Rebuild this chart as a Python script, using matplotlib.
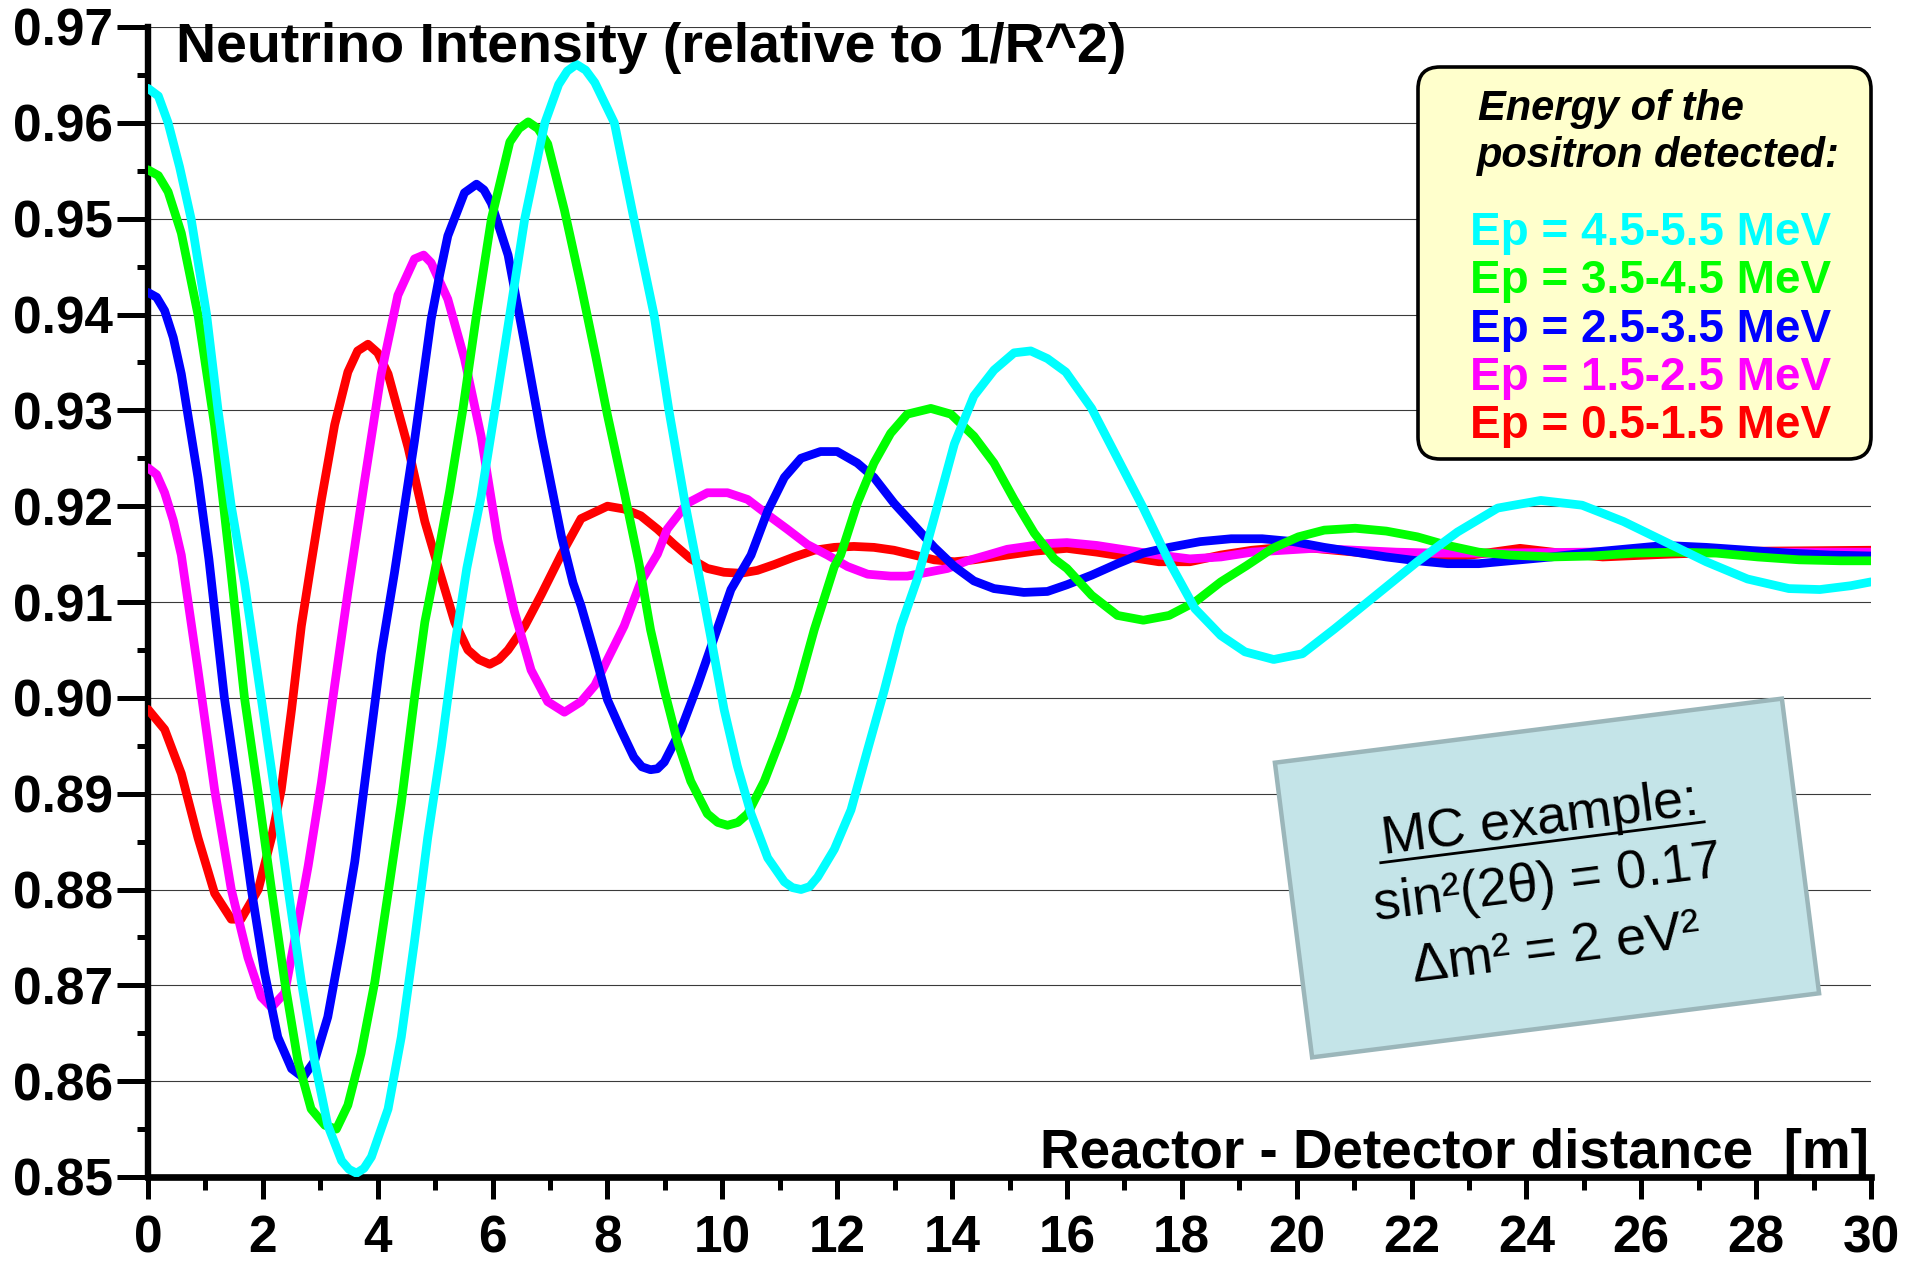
import matplotlib
matplotlib.use('Agg')
from matplotlib import pyplot as plt
from matplotlib import font_manager
from matplotlib.patches import Rectangle, FancyBboxPatch
import numpy as np


W_PX, H_PX = 1905, 1265

# energy bins (legend labels, colours)
bin_labels = ['Ep = 4.5-5.5 MeV', 'Ep = 3.5-4.5 MeV', 'Ep = 2.5-3.5 MeV',
              'Ep = 1.5-2.5 MeV', 'Ep = 0.5-1.5 MeV']
bin_colors = ['#00FFFF', '#00FF00', '#0000FF', '#FF00FF', '#FF0000']

# curves: distance [m], relative intensity
dist_45_55 = [0, 0.18, 0.35, 0.55, 0.75, 1.02, 1.22, 1.45, 1.68, 1.97, 2.21, 2.44,
              2.67, 2.90, 3.13, 3.37, 3.50, 3.63, 3.76, 3.89, 4.18, 4.41, 4.64,
              4.87, 5.11, 5.34, 5.55, 5.80, 6.04, 6.30, 6.56, 6.91, 7.15, 7.30,
              7.46, 7.62, 7.78, 8.12, 8.46, 8.81, 9.07, 9.36, 9.62, 9.80, 10.03,
              10.26, 10.50, 10.79, 11.08, 11.22, 11.37, 11.52, 11.66, 11.95,
              12.24, 12.53, 12.82, 13.11, 13.40, 13.69, 14.04, 14.38, 14.73,
              15.08, 15.37, 15.66, 15.98, 16.43, 16.88, 17.33, 17.78, 18.23,
              18.68, 19.10, 19.60, 20.10, 20.66, 21.38, 22.10, 22.80, 23.50,
              24.25, 24.97, 25.69, 26.41, 27.13, 27.85, 28.57, 29.11, 29.65, 30.0]
int_45_55 = [0.9636, 0.9628, 0.9600, 0.9554, 0.9500, 0.9400, 0.9300, 0.9200,
             0.9120, 0.9000, 0.8900, 0.8800, 0.8704, 0.8621, 0.8554, 0.8517,
             0.8508, 0.8504, 0.8509, 0.8521, 0.8571, 0.8646, 0.8746, 0.8854,
             0.8950, 0.9054, 0.9135, 0.9210, 0.9300, 0.9400, 0.9500, 0.9600,
             0.9640, 0.9654, 0.9661, 0.9655, 0.9642, 0.9600, 0.9500, 0.9400,
             0.9300, 0.9200, 0.9120, 0.9063, 0.8988, 0.8929, 0.8879, 0.8833,
             0.8808, 0.8802, 0.8800, 0.8803, 0.8813, 0.8842, 0.8883, 0.8946,
             0.9008, 0.9075, 0.9125, 0.9188, 0.9265, 0.9315, 0.9342, 0.9360,
             0.9362, 0.9354, 0.9340, 0.9302, 0.9250, 0.9198, 0.9142, 0.9093,
             0.9065, 0.9048, 0.9040, 0.9046, 0.9072, 0.9107, 0.9142, 0.9173,
             0.9198, 0.9206, 0.9201, 0.9184, 0.9163, 0.9142, 0.9124, 0.9114,
             0.9113, 0.9117, 0.9121]

dist_35_45 = [0, 0.18, 0.35, 0.58, 0.87, 1.16, 1.42, 1.68, 1.92, 2.15, 2.38, 2.61,
              2.84, 3.08, 3.28, 3.48, 3.71, 3.95, 4.18, 4.41, 4.64, 4.82, 5.02,
              5.25, 5.48, 5.72, 5.98, 6.30, 6.46, 6.62, 6.79, 6.96, 7.25, 7.54,
              7.80, 8.00, 8.29, 8.55, 8.75, 8.99, 9.22, 9.45, 9.74, 9.92, 10.09,
              10.27, 10.44, 10.73, 11.02, 11.31, 11.60, 11.95, 12.06, 12.35,
              12.64, 12.93, 13.22, 13.63, 13.98, 14.38, 14.73, 15.08, 15.43,
              15.78, 16.0, 16.43, 16.88, 17.33, 17.78, 18.23, 18.68, 19.13,
              19.58, 20.03, 20.48, 21.02, 21.56, 22.10, 22.63, 23.17, 23.71,
              24.43, 25.15, 25.87, 26.59, 27.31, 28.03, 28.75, 29.47, 30.0]
int_35_45 = [0.9551, 0.9545, 0.9528, 0.9485, 0.9400, 0.9284, 0.9145, 0.9000,
             0.8900, 0.8800, 0.8704, 0.8621, 0.8571, 0.8554, 0.8550, 0.8575,
             0.8629, 0.8704, 0.8796, 0.8890, 0.9000, 0.9079, 0.9140, 0.9215,
             0.9300, 0.9400, 0.9500, 0.9580, 0.9594, 0.9601, 0.9594, 0.9578,
             0.9509, 0.9430, 0.9355, 0.9295, 0.9215, 0.9140, 0.9071, 0.9008,
             0.8954, 0.8913, 0.8879, 0.8870, 0.8867, 0.8870, 0.8879, 0.8913,
             0.8958, 0.9008, 0.9071, 0.9137, 0.9149, 0.9203, 0.9245, 0.9276,
             0.9296, 0.9302, 0.9296, 0.9273, 0.9245, 0.9207, 0.9172, 0.9145,
             0.9135, 0.9107, 0.9086, 0.9081, 0.9086, 0.9100, 0.9121, 0.9138,
             0.9156, 0.9168, 0.9175, 0.9177, 0.9174, 0.9168, 0.9159, 0.9152,
             0.9149, 0.9147, 0.9148, 0.9151, 0.9152, 0.9151, 0.9147, 0.9144,
             0.9143, 0.9143]

dist_25_35 = [0, 0.15, 0.29, 0.44, 0.58, 0.87, 1.06, 1.33, 1.57, 1.80, 2.03, 2.26,
              2.50, 2.70, 2.90, 3.13, 3.37, 3.60, 3.83, 4.06, 4.29, 4.64, 4.93,
              5.08, 5.22, 5.51, 5.72, 5.85, 5.98, 6.27, 6.56, 6.85, 7.20, 7.40,
              7.54, 7.78, 8.00, 8.23, 8.46, 8.60, 8.75, 8.87, 8.99, 9.28, 9.57,
              9.86, 10.15, 10.50, 10.79, 11.08, 11.37, 11.71, 12.00, 12.35,
              12.64, 12.99, 13.34, 13.69, 14.04, 14.38, 14.73, 15.25, 15.66,
              16.00, 16.43, 16.88, 17.33, 17.78, 18.32, 18.86, 19.40, 19.94,
              20.48, 21.02, 21.56, 22.10, 22.63, 23.17, 23.71, 24.43, 25.15,
              25.87, 26.41, 27.13, 27.85, 28.57, 29.29, 30.0]
int_25_35 = [0.9423, 0.9418, 0.9404, 0.9376, 0.9338, 0.9230, 0.9145, 0.9000,
             0.8900, 0.8800, 0.8713, 0.8646, 0.8613, 0.8604, 0.8621, 0.8667,
             0.8746, 0.8829, 0.8938, 0.9046, 0.9130, 0.9268, 0.9395, 0.9442,
             0.9482, 0.9527, 0.9536, 0.9530, 0.9516, 0.9462, 0.9369, 0.9273,
             0.9168, 0.9120, 0.9096, 0.9046, 0.8998, 0.8967, 0.8938, 0.8928,
             0.8925, 0.8926, 0.8933, 0.8967, 0.9013, 0.9063, 0.9113, 0.9149,
             0.9195, 0.9230, 0.9250, 0.9257, 0.9257, 0.9245, 0.9230, 0.9203,
             0.9180, 0.9157, 0.9137, 0.9122, 0.9114, 0.9110, 0.9111, 0.9118,
             0.9128, 0.9140, 0.9151, 0.9157, 0.9163, 0.9166, 0.9166, 0.9163,
             0.9157, 0.9152, 0.9147, 0.9143, 0.9140, 0.9140, 0.9143, 0.9147,
             0.9152, 0.9156, 0.9159, 0.9157, 0.9154, 0.9151, 0.9149, 0.9148]

dist_15_25 = [0, 0.15, 0.29, 0.44, 0.58, 0.87, 1.16, 1.45, 1.74, 1.97, 2.15, 2.38,
              2.55, 2.79, 3.02, 3.25, 3.48, 3.77, 4.06, 4.35, 4.64, 4.80, 4.93,
              5.22, 5.51, 5.80, 6.09, 6.38, 6.67, 6.96, 7.25, 7.54, 7.78, 8.00,
              8.29, 8.58, 8.87, 9.04, 9.39, 9.74, 10.09, 10.44, 10.79, 11.13,
              11.48, 11.83, 12.18, 12.53, 12.93, 13.22, 13.57, 13.92, 14.27,
              14.62, 14.96, 15.31, 15.66, 16.0, 16.52, 17.06, 17.60, 18.14,
              18.68, 19.22, 19.76, 20.30, 21.02, 21.74, 22.45, 23.5, 25.0, 26.5,
              28.0, 30.0]
int_15_25 = [0.9240, 0.9233, 0.9214, 0.9185, 0.9149, 0.9029, 0.8904, 0.8800,
             0.8729, 0.8688, 0.8677, 0.8692, 0.8746, 0.8825, 0.8912, 0.9013,
             0.9110, 0.9226, 0.9338, 0.9420, 0.9458, 0.9462, 0.9454, 0.9416,
             0.9354, 0.9273, 0.9165, 0.9090, 0.9029, 0.8996, 0.8985, 0.8996,
             0.9013, 0.9040, 0.9075, 0.9121, 0.9150, 0.9176, 0.9203, 0.9214,
             0.9214, 0.9207, 0.9191, 0.9176, 0.9160, 0.9149, 0.9137, 0.9129,
             0.9127, 0.9127, 0.9131, 0.9135, 0.9143, 0.9149, 0.9155, 0.9158,
             0.9161, 0.9162, 0.9159, 0.9154, 0.9149, 0.9145, 0.9147, 0.9152,
             0.9154, 0.9156, 0.9154, 0.9152, 0.9151, 0.9151, 0.9152, 0.9153,
             0.9152, 0.9152]

dist_05_15 = [0, 0.29, 0.58, 0.87, 1.16, 1.45, 1.62, 1.92, 2.15, 2.32, 2.50, 2.67,
              2.84, 3.02, 3.25, 3.48, 3.65, 3.83, 4.00, 4.18, 4.53, 4.82, 5.05,
              5.34, 5.57, 5.76, 5.95, 6.11, 6.27, 6.56, 6.85, 7.20, 7.54, 8.00,
              8.29, 8.58, 8.87, 9.16, 9.45, 9.74, 10.03, 10.32, 10.61, 10.90,
              11.25, 11.60, 11.95, 12.29, 12.64, 12.99, 13.34, 13.69, 14.04,
              14.38, 14.73, 15.08, 15.43, 16.00, 16.52, 17.06, 17.60, 18.14,
              18.68, 19.22, 19.76, 20.30, 21.02, 21.74, 22.45, 23.17, 23.89,
              24.60, 25.33, 26.5, 28.0, 30.0]
int_05_15 = [0.8988, 0.8967, 0.8921, 0.8854, 0.8796, 0.8769, 0.8769, 0.8800,
             0.8854, 0.8904, 0.8988, 0.9075, 0.9140, 0.9207, 0.9285, 0.9340,
             0.9362, 0.9369, 0.9360, 0.9338, 0.9261, 0.9184, 0.9137, 0.9079,
             0.9050, 0.9040, 0.9035, 0.9040, 0.9050, 0.9075, 0.9108, 0.9150,
             0.9187, 0.9200, 0.9197, 0.9190, 0.9176, 0.9160, 0.9145, 0.9135,
             0.9131, 0.9130, 0.9133, 0.9139, 0.9147, 0.9154, 0.9157, 0.9158,
             0.9157, 0.9154, 0.9149, 0.9144, 0.9142, 0.9144, 0.9147, 0.9150,
             0.9153, 0.9156, 0.9152, 0.9147, 0.9142, 0.9142, 0.9149, 0.9154,
             0.9157, 0.9156, 0.9152, 0.9147, 0.9145, 0.9150, 0.9156, 0.9151,
             0.9147, 0.9150, 0.9153, 0.9154]

x_major = list(range(0, 31, 2))
y_major = [0.85, 0.86, 0.87, 0.88, 0.89, 0.90, 0.91, 0.92, 0.93, 0.94, 0.95, 0.96, 0.97]

mc_lines = ['MC example:', 'sin\u00b2(2\u03b8) = 0.17', '\u0394m\u00b2 = 2 eV\u00b2']


def Y(y_top):
    # pixel row measured from the top -> overlay coordinate (y up)
    return H_PX - y_top


def local_to_px(cx, cy, u, v, ang):
    a = np.radians(ang)
    return cx + u*np.cos(a) - v*np.sin(a), cy + u*np.sin(a) + v*np.cos(a)


def do_plot():
    names = {f.name for f in font_manager.fontManager.ttflist}
    has_narrow = 'Liberation Sans Narrow' in names
    plt.rcParams['font.family'] = ['Liberation Sans', 'DejaVu Sans']

    fig = plt.figure(figsize=(W_PX/100.0, H_PX/100.0), dpi=100)
    ax = fig.add_axes([148.0/W_PX, 1.0-1177.0/H_PX, (1871.0-148.0)/W_PX, (1177.0-27.0)/H_PX])

    series = [(dist_05_15, int_05_15, bin_colors[4]),
              (dist_15_25, int_15_25, bin_colors[3]),
              (dist_25_35, int_25_35, bin_colors[2]),
              (dist_35_45, int_35_45, bin_colors[1]),
              (dist_45_55, int_45_55, bin_colors[0])]
    for xs, ys, col in series:
        ax.plot(xs, ys, '-', color=col, lw=6.3, solid_joinstyle='round',
                solid_capstyle='round', zorder=3)

    ax.set_xlim(0, 30)
    ax.set_ylim(0.85, 0.97)
    ax.set_xticks(x_major)
    ax.set_xticks(range(0, 31), minor=True)
    ax.set_yticks(y_major)
    ax.set_yticks(np.arange(0.855, 0.97, 0.01), minor=True)
    ax.set_yticklabels(['%.2f' % v for v in y_major])
    ax.yaxis.grid(True, which='major', color='#3a3a3a', lw=0.8, zorder=0)
    ax.set_axisbelow(True)

    for s in ['top', 'right']:
        ax.spines[s].set_visible(False)
    ax.spines['left'].set_linewidth(4.6)
    ax.spines['bottom'].set_linewidth(4.8)
    ax.spines['left'].set_capstyle('projecting')
    ax.spines['bottom'].set_capstyle('projecting')

    ax.tick_params(axis='y', which='major', direction='out', length=22, width=3.6,
                   pad=3, labelsize=37)
    ax.tick_params(axis='y', which='minor', direction='out', length=8, width=3.6)
    ax.tick_params(axis='x', which='major', direction='out', length=16, width=3.6,
                   pad=11, labelsize=37)
    ax.tick_params(axis='x', which='minor', direction='out', length=9, width=3.6)
    for lab in ax.get_xticklabels() + ax.get_yticklabels():
        lab.set_fontweight('bold')

    # overlay in figure pixels for boxes and free text
    ov = fig.add_axes([0, 0, 1, 1])
    ov.set_xlim(0, W_PX)
    ov.set_ylim(0, H_PX)
    ov.axis('off')
    ov.set_zorder(5)
    ov.patch.set_visible(False)

    ov.text(176, Y(62), 'Neutrino Intensity (relative to 1/R^2)', fontsize=40,
            fontweight='bold', ha='left', va='baseline')
    ov.text(1869, Y(1168), 'Reactor - Detector distance  [m]', fontsize=39.5,
            fontweight='bold', ha='right', va='baseline')

    # legend box
    ov.add_patch(FancyBboxPatch((1418, Y(459)), 1871-1418, 459-67,
                                boxstyle='round,pad=0,rounding_size=22',
                                facecolor='#FFFFCC', edgecolor='black', lw=2.6))
    ov.text(1478, Y(120), 'Energy of the', fontsize=30, fontweight='bold',
            fontstyle='italic', ha='left', va='baseline')
    ov.text(1477, Y(167), 'positron detected:', fontsize=30, fontweight='bold',
            fontstyle='italic', ha='left', va='baseline')
    if has_narrow:
        fam, fsz = ['Liberation Sans Narrow', 'Liberation Sans'], 38
    else:
        fam, fsz = ['Liberation Sans', 'DejaVu Sans'], 33
    base = [245, 293, 342, 390, 438]
    for lab, col, yb in zip(bin_labels, bin_colors, base):
        ov.text(1470, Y(yb), lab, color=col, fontsize=fsz, fontweight='bold',
                family=fam, ha='left', va='baseline')

    # tilted MC box
    ang = 7.2
    cx, cy = 1547, Y(878)
    bw, bh = 511, 297
    ov.add_patch(Rectangle((cx-bw/2.0, cy-bh/2.0), bw, bh, angle=ang,
                           rotation_point='center', facecolor='#C4E4E8',
                           edgecolor='#9BB6BA', lw=3.2))
    for txt, v in zip(mc_lines, [44, -20, -86]):
        px, py = local_to_px(cx, cy, 0, v, ang)
        ov.text(px, py, txt, fontsize=39, rotation=ang, rotation_mode='anchor',
                ha='center', va='baseline')
    x0, y0 = local_to_px(cx, cy, -163, 36, ang)
    x1, y1 = local_to_px(cx, cy, 163, 36, ang)
    ov.plot([x0, x1], [y0, y1], '-k', lw=2.0)

    fig.savefig('out.png', dpi=100)
    plt.close(fig)


if __name__ == '__main__':
    do_plot()
